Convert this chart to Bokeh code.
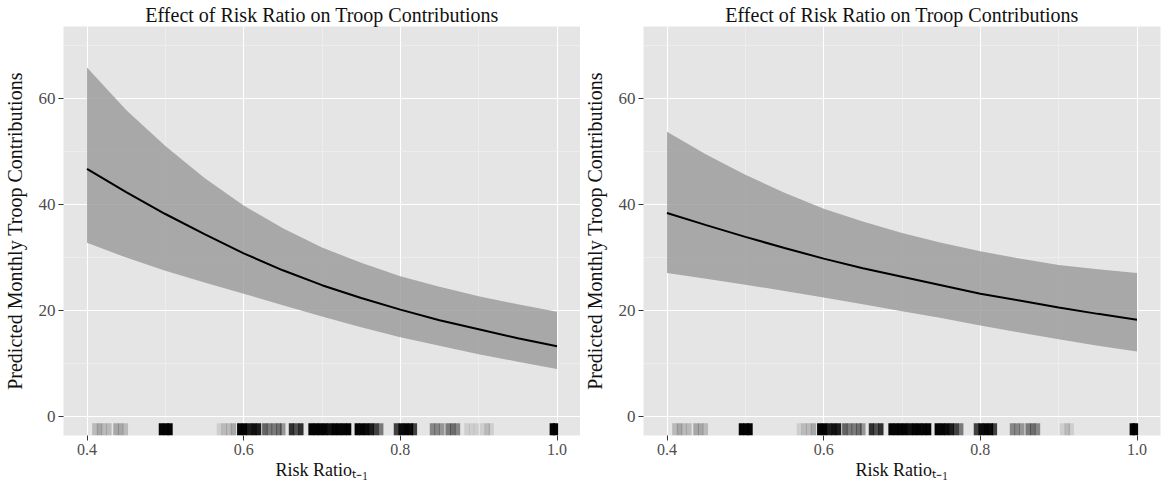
from bokeh.plotting import figure
from bokeh.layouts import row
from bokeh.models import Range1d, FixedTicker
from bokeh.embed import file_html
from bokeh.resources import INLINE

# ---------------- data ----------------
TITLE = "Effect of Risk Ratio on Troop Contributions"
Y_LABEL = "Predicted Monthly Troop Contributions"
X_LABEL = "Risk Ratio\u209c\u208b\u2081"   # Risk Ratio with subscript t-1

risk_ratio = [0.40, 0.45, 0.50, 0.55, 0.60, 0.65, 0.70, 0.75, 0.80, 0.85, 0.90, 0.95, 1.00]

left_fit = [46.7, 42.3, 38.2, 34.4, 30.8, 27.6, 24.8, 22.4, 20.2, 18.2, 16.5, 14.8, 13.3]
left_upper = [65.8, 57.8, 51.0, 45.0, 39.8, 35.5, 31.9, 29.0, 26.5, 24.5, 22.7, 21.2, 19.8]
left_lower = [32.8, 30.0, 27.5, 25.3, 23.2, 21.0, 18.9, 16.9, 15.0, 13.4, 11.8, 10.4, 9.0]

right_fit = [38.4, 36.1, 33.9, 31.8, 29.8, 28.0, 26.4, 24.8, 23.2, 21.9, 20.6, 19.4, 18.3]
right_upper = [53.7, 49.4, 45.6, 42.2, 39.2, 36.8, 34.6, 32.8, 31.2, 29.8, 28.6, 27.8, 27.1]
right_lower = [27.1, 26.0, 24.9, 23.7, 22.5, 21.2, 19.9, 18.6, 17.2, 15.9, 14.6, 13.4, 12.3]

x_ticks = [0.4, 0.6, 0.8, 1.0]
x_tick_labels = ["0.4", "0.6", "0.8", "1.0"]
x_minor = [0.5, 0.7, 0.9]
y_ticks = [0, 20, 40, 60]
y_tick_labels = ["0", "20", "40", "60"]
y_minor = [10, 30, 50, 70]

# rug: observed lagged risk ratios and how many observations sit at each
rug_x = [0.410, 0.416, 0.422, 0.428, 0.437, 0.443, 0.449,
         0.495, 0.501, 0.506,
         0.569, 0.575, 0.581, 0.587,
         0.595, 0.601, 0.607, 0.613, 0.619,
         0.627, 0.633, 0.639, 0.645, 0.650,
         0.661, 0.667, 0.673,
         0.686, 0.692, 0.698, 0.704, 0.710, 0.716, 0.722, 0.728, 0.734,
         0.745, 0.751, 0.757, 0.763, 0.769, 0.775,
         0.795, 0.801, 0.807, 0.813, 0.818,
         0.841, 0.847, 0.853, 0.861, 0.867, 0.873,
         0.885, 0.891, 0.897, 0.905, 0.911, 0.916,
         0.994, 0.998]
rug_n_left = [2, 3, 2, 2, 3, 3, 2,
              40, 40, 40,
              1, 2, 2, 3,
              40, 40, 20, 25, 20,
              8, 6, 6, 7, 4,
              15, 10, 15,
              40, 40, 40, 40, 25, 40, 40, 40, 40,
              40, 40, 30, 20, 12, 6,
              12, 30, 40, 30, 12,
              5, 5, 4, 6, 7, 5,
              1, 1, 1, 1, 2, 1,
              40, 40]
rug_n_right = [2, 3, 2, 2, 3, 3, 2,
               40, 40, 40,
               1, 2, 2, 3,
               40, 40, 20, 25, 20,
               8, 6, 6, 7, 4,
               15, 10, 15,
               40, 40, 40, 40, 25, 40, 40, 40, 40,
               40, 40, 30, 20, 12, 6,
               12, 30, 40, 30, 12,
               5, 5, 4, 6, 7, 5,
               0, 0, 0, 1, 2, 1,
               40, 40]

# ---------------- styling ----------------
FONT = "Liberation Serif"
X_RANGE = (0.37, 1.03)
Y_RANGE = (-3.5, 73.5)
FIG_H = 485
RUG_HALF = 0.0034
INK = "#111111"


def make_panel(fit, upper, lower, rug_n, width, border_left, border_right):
    p = figure(width=width, height=FIG_H, title=TITLE,
               x_range=Range1d(*X_RANGE), y_range=Range1d(*Y_RANGE),
               output_backend="svg", toolbar_location=None,
               min_border_left=border_left, min_border_right=border_right,
               min_border_top=26, min_border_bottom=50)
    p.background_fill_color = "#E5E5E5"
    p.border_fill_color = "white"
    p.outline_line_color = None

    p.title.align = "center"
    p.title.text_font = FONT
    p.title.text_font_size = "20px"
    p.title.text_font_style = "normal"
    p.title.text_color = INK
    p.title.standoff = 2
    p.title.offset = 0

    # axes
    p.xaxis.ticker = FixedTicker(ticks=x_ticks, minor_ticks=x_minor)
    p.yaxis.ticker = FixedTicker(ticks=y_ticks, minor_ticks=y_minor)
    p.xaxis.major_label_overrides = dict(zip(x_ticks, x_tick_labels))
    p.yaxis.major_label_overrides = dict(zip(y_ticks, y_tick_labels))
    for ax in (p.xaxis, p.yaxis):
        ax.axis_line_color = None
        ax.major_tick_line_color = "#333333"
        ax.major_tick_out = 5
        ax.major_tick_in = 0
        ax.minor_tick_line_color = None
        ax.major_label_text_font = FONT
        ax.major_label_text_color = "#4D4D4D"
        ax.axis_label_text_font = FONT
        ax.axis_label_text_font_style = "normal"
        ax.axis_label_text_color = INK
    p.xaxis.major_label_text_font_size = "16px"
    p.yaxis.major_label_text_font_size = "17px"
    p.xaxis.major_label_standoff = 3
    p.yaxis.major_label_standoff = 3
    p.xaxis.axis_label = X_LABEL
    p.xaxis.axis_label_text_font_size = "18px"
    p.xaxis.axis_label_standoff = 2
    p.yaxis.axis_label = Y_LABEL
    p.yaxis.axis_label_text_font_size = "20px"
    p.yaxis.axis_label_standoff = 10

    # grid
    for g in (p.xgrid, p.ygrid):
        g.grid_line_color = "white"
        g.grid_line_width = 1.1
        g.minor_grid_line_color = "#F2F2F2"
        g.minor_grid_line_width = 0.6

    # ribbon + fit
    p.varea(x=risk_ratio, y1=lower, y2=upper, fill_color="#989898", fill_alpha=0.8)
    p.line(x=risk_ratio, y=fit, line_color="black", line_width=2)

    # rug along the bottom (3% of panel height)
    y0 = Y_RANGE[0]
    y1 = Y_RANGE[0] + 0.03 * (Y_RANGE[1] - Y_RANGE[0])
    xs = [x for x, n in zip(rug_x, rug_n) if n > 0]
    alphas = [1 - 0.9 ** n for n in rug_n if n > 0]
    p.quad(left=[x - RUG_HALF for x in xs], right=[x + RUG_HALF for x in xs],
           bottom=[y0] * len(xs), top=[y1] * len(xs),
           fill_color="black", fill_alpha=alphas, line_color=None)
    return p


p1 = make_panel(left_fit, left_upper, left_lower, rug_n_left, 580, 61, 0)
p2 = make_panel(right_fit, right_upper, right_lower, rug_n_right, 582, 62, 2)
layout = row(p1, p2)

open("out.html", "w").write(file_html(layout, INLINE))
